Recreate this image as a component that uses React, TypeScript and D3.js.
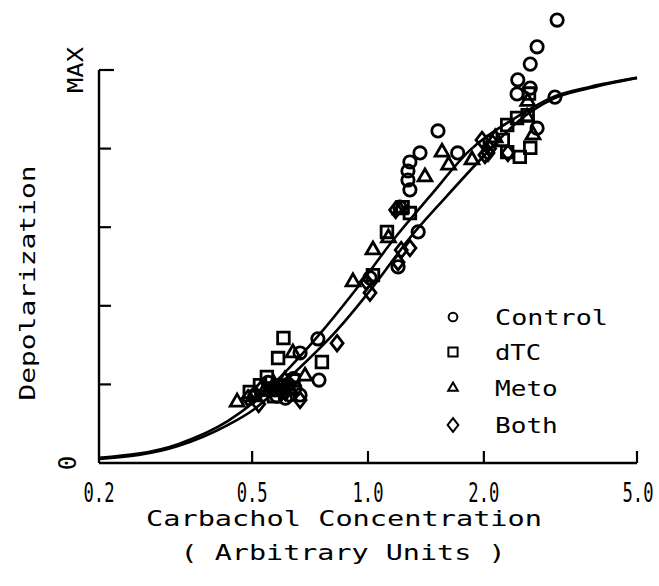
import React from "react";
import * as d3 from "d3";

// fitted curves (concentration, fraction of MAX)
const fitAConc = [0.2, 0.321, 0.433, 0.503, 0.627, 0.773, 0.953, 1.175, 1.449, 1.841, 2.48, 3.02, 3.77, 5.0];
const fitAVal = [0.013, 0.048, 0.107, 0.153, 0.244, 0.344, 0.455, 0.573, 0.679, 0.796, 0.885, 0.931, 0.957, 0.98];
const fitBConc = [0.2, 0.321, 0.433, 0.503, 0.627, 0.831, 1.024, 1.285, 1.585, 1.954, 2.48, 3.02, 3.77, 5.0];
const fitBVal = [0.01, 0.043, 0.097, 0.135, 0.219, 0.338, 0.445, 0.573, 0.674, 0.771, 0.873, 0.926, 0.954, 0.98];

const controlConc = [3.1, 2.75, 2.64, 2.45, 2.44, 2.64, 3.06, 2.75, 1.52, 1.365, 1.285, 1.27, 1.27, 1.285, 1.35, 1.197, 1.71, 2.075, 1.21, 0.741, 0.746, 0.666, 0.601, 0.627, 0.573, 0.591, 0.646, 0.508, 1.012, 0.62, 0.58, 0.666, 0.64, 0.61, 0.55];
const controlDep = [1.127, 1.059, 1.015, 0.975, 0.939, 0.954, 0.931, 0.852, 0.845, 0.789, 0.766, 0.743, 0.72, 0.695, 0.588, 0.499, 0.789, 0.817, 0.651, 0.316, 0.211, 0.173, 0.181, 0.173, 0.186, 0.198, 0.191, 0.173, 0.471, 0.2, 0.17, 0.28, 0.215, 0.165, 0.205];

const dtcConc = [0.603, 0.584, 0.759, 0.546, 0.524, 0.493, 0.556, 2.48, 2.3, 2.64, 2.24, 2.3, 2.44, 2.6, 1.23, 1.12, 1.285, 1.03, 0.6, 0.64, 2.62, 0.57];
const dtcDep = [0.318, 0.267, 0.257, 0.219, 0.198, 0.181, 0.186, 0.779, 0.791, 0.802, 0.822, 0.86, 0.878, 0.885, 0.651, 0.588, 0.636, 0.478, 0.195, 0.21, 0.94, 0.17];

const metoConc = [0.457, 0.638, 0.686, 0.54, 0.503, 0.608, 0.914, 1.03, 1.406, 1.557, 1.863, 2.684, 2.59, 1.21, 1.13, 2.14, 1.62, 0.57, 2.6, 0.63];
const metoDep = [0.155, 0.28, 0.221, 0.186, 0.168, 0.211, 0.461, 0.542, 0.728, 0.791, 0.771, 0.835, 0.88, 0.644, 0.573, 0.827, 0.758, 0.2, 0.92, 0.185];

const bothConc = [0.831, 1.012, 1.197, 1.22, 1.285, 2.013, 2.05, 2.31, 1.978, 0.488, 0.53, 0.666, 0.99, 1.18, 2.07, 0.61, 0.52];
const bothDep = [0.305, 0.433, 0.511, 0.542, 0.547, 0.784, 0.789, 0.789, 0.822, 0.165, 0.191, 0.16, 0.461, 0.644, 0.8, 0.18, 0.15];

const xTicks = [0.2, 0.5, 1.0, 2.0, 5.0];
const xTickLabels = ["0.2", "0.5", "1.0", "2.0", "5.0"];
const yTicks = [0.2, 0.4, 0.6, 0.8, 1.0];
const legendNames = ["Control", "dTC", "Meto", "Both"];

const font = "'DejaVu Sans Mono', 'Liberation Mono', monospace";

// narrow diamond like the original
const diamond = {
  draw(ctx: any, size: number) {
    const h = Math.sqrt(size) * 0.95;
    const w = h * 0.78;
    ctx.moveTo(0, -h);
    ctx.lineTo(w, 0);
    ctx.lineTo(0, h);
    ctx.lineTo(-w, 0);
    ctx.closePath();
  },
};

const symbolTypes = [d3.symbolCircle, d3.symbolSquare, d3.symbolTriangle, diamond];
const symbolSizes = [120, 135, 82, 66];
const legendSizes = [60, 85, 40, 52];

export default function App() {
  const x = d3.scaleLog().domain([0.2, 5]).range([99, 637]);
  const y = d3.scaleLinear().domain([0, 1]).range([463, 70]);

  const line = d3
    .line<[number, number]>()
    .x((d) => x(d[0]))
    .y((d) => y(d[1]))
    .curve(d3.curveMonotoneX);

  const fitA = fitAConc.map((c, i) => [c, fitAVal[i]] as [number, number]);
  const fitB = fitBConc.map((c, i) => [c, fitBVal[i]] as [number, number]);

  const series = [
    [controlConc, controlDep],
    [dtcConc, dtcDep],
    [metoConc, metoDep],
    [bothConc, bothDep],
  ];

  const sym = (k: number, size: number) => d3.symbol().type(symbolTypes[k] as any).size(size)() as string;

  const legendY = [317, 352, 388, 425];

  return (
    <svg width={659} height={586} style={{ position: "absolute", left: 0, top: 0, background: "#fff" }}>
      <rect width={659} height={586} fill="#fff" />
      {/* axes */}
      <line x1={x(0.2)} x2={x(0.2)} y1={y(1)} y2={y(0)} stroke="#000" strokeWidth={2.4} />
      <line x1={x(0.2)} x2={x(5)} y1={y(0)} y2={y(0)} stroke="#000" strokeWidth={2.4} />
      {yTicks.map((t) => (
        <line key={t} x1={x(0.2)} x2={x(0.2) + (t === 1 ? 15 : 12)} y1={y(t)} y2={y(t)} stroke="#000" strokeWidth={2.2} />
      ))}
      {xTicks.slice(1).map((t) => (
        <line key={t} x1={x(t)} x2={x(t)} y1={y(0)} y2={y(0) - 12} stroke="#000" strokeWidth={2.2} />
      ))}

      {/* fitted curves */}
      <path d={line(fitA) as string} fill="none" stroke="#000" strokeWidth={2.6} />
      <path d={line(fitB) as string} fill="none" stroke="#000" strokeWidth={2.6} />

      {/* data */}
      {series.map(([cs, vs], k) =>
        cs.map((c, i) => (
          <path
            key={k + "-" + i}
            d={sym(k, symbolSizes[k])}
            transform={`translate(${x(c)},${y(vs[i])})`}
            fill="none"
            stroke="#000"
            strokeWidth={2.8}
          />
        ))
      )}

      {/* legend */}
      {legendNames.map((n, k) => (
        <g key={n}>
          <path d={sym(k, legendSizes[k])} transform={`translate(453,${legendY[k]})`} fill="none" stroke="#000" strokeWidth={2} />
          <text x={495} y={legendY[k] + 8} fontFamily={font} fontSize={21} textLength={n.length * 16.7 - 4} lengthAdjust="spacingAndGlyphs">
            {n}
          </text>
        </g>
      ))}

      {/* tick labels, squeezed horizontally like the original's narrow digits */}
      {xTicks.map((t, i) => (
        <text
          key={t}
          transform={`translate(${i === 4 ? 638 : x(t)},502) scale(0.66,1)`}
          textAnchor="middle"
          fontFamily={font}
          fontSize={26}
        >
          {xTickLabels[i]}
        </text>
      ))}
      <text transform={`translate(83,${y(1)}) rotate(-90)`} textAnchor="middle" fontFamily={font} fontSize={22} textLength={46} lengthAdjust="spacingAndGlyphs">
        MAX
      </text>
      <text transform={`translate(76,${y(0)}) rotate(-90)`} textAnchor="middle" fontFamily={font} fontSize={24}>
        0
      </text>

      {/* axis titles */}
      <text transform="translate(35,283) rotate(-90)" textAnchor="middle" fontFamily={font} fontSize={22} textLength={235} lengthAdjust="spacingAndGlyphs">
        Depolarization
      </text>
      <text x={344} y={526} textAnchor="middle" fontFamily={font} fontSize={22} textLength={396} lengthAdjust="spacingAndGlyphs">
        Carbachol Concentration
      </text>
      <text x={343} y={560} textAnchor="middle" fontFamily={font} fontSize={22} textLength={325} lengthAdjust="spacingAndGlyphs">
        ( Arbitrary Units )
      </text>
    </svg>
  );
}
